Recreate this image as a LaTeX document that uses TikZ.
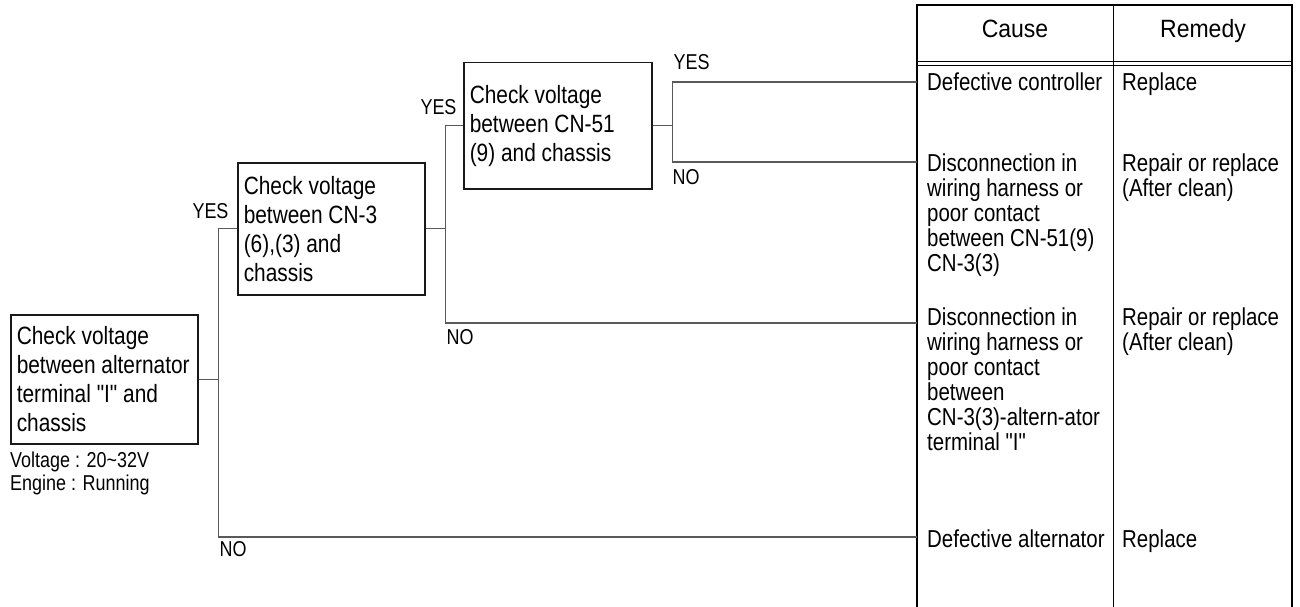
\documentclass[tikz,border=0pt]{standalone}
\usepackage{fontspec}
\setmainfont{Liberation Sans}[FakeStretch=0.835, Ligatures=TeXOff]
\newfontfamily\hdrfont{Liberation Sans}[FakeStretch=0.92, Ligatures=TeXOff]
\usetikzlibrary{positioning,calc}

\begin{document}
\begin{tikzpicture}[
    x=1pt, y=-1pt,
    check/.style={rectangle, draw=black!90, line width=1.5pt,
                  anchor=north west, inner xsep=6pt, inner ysep=0pt,
                  align=flush left, font=\fontsize{25}{29}\selectfont},
    note/.style={anchor=north west, inner sep=0pt, align=left,
                 font=\fontsize{21.5}{23}\selectfont},
    ans/.style={inner sep=0pt, font=\fontsize{21.5}{22}\selectfont},
    cell/.style={anchor=base west, inner sep=0pt, align=left,
                 font=\fontsize{24.5}{25}\selectfont},
    hdr/.style={anchor=base, inner sep=0pt,
                font=\hdrfont\fontsize{25}{27}\selectfont},
    wire/.style={black!65, line width=1.2pt},
    tblframe/.style={black, line width=2pt},
    tblrule/.style={black, line width=1pt},
  ]
  \useasboundingbox (0,0) rectangle (1300,607);

  %% CHECKS
  \node[check, text width=175pt, minimum height=129pt] (alt) at (10,314)
    {Check voltage\\between alternator\\terminal "I" and\\chassis};
  \node[note] (cond) at (10,452) {Voltage : 20\textasciitilde32V\\Engine : Running};

  \node[check, text width=175pt, minimum height=132pt] (cn3) at (237,162)
    {Check voltage\\between CN-3\\(6),(3) and\\chassis};

  \node[check, text width=176pt, minimum height=126pt] (cn51) at (463,62)
    {Check voltage\\between CN-51\\(9) and chassis};

  %% TABLE
  \coordinate (r1) at (917,82);
  \coordinate (r2) at (917,162);
  \coordinate (r3) at (917,323);
  \coordinate (r4) at (917,537);

  \draw[tblframe] (917,607) -- (917,5) -- (1292,5) -- (1292,607);
  \draw[tblrule] (1113,5) -- (1113,607);
  \draw[tblrule] (917,62) -- (1292,62) (917,65.5) -- (1292,65.5);

  \node[hdr] (cause)  at (1015,37.5) {Cause};
  \node[hdr] (remedy) at (1203,37.5) {Remedy};

  % base of a multi-line cell = its last line
  \node[cell] (c1) at (927,91)    {Defective controller};
  \node[cell] (c2) at (927,271.5) {Disconnection in\\wiring harness or\\poor contact\\between CN-51(9)\\CN-3(3)};
  \node[cell] (c3) at (927,450)   {Disconnection in\\wiring harness or\\poor contact\\between\\CN-3(3)-altern-ator\\terminal "I"};
  \node[cell] (c4) at (927,547)   {Defective alternator};

  \node[cell] (m1) at (1122,91)    {Replace};
  \node[cell] (m2) at (1122,196.5) {Repair or replace\\(After clean)};
  \node[cell] (m3) at (1122,350)   {Repair or replace\\(After clean)};
  \node[cell] (m4) at (1122,547)   {Replace};

  %% CONNECTORS
  \coordinate (j1) at ($(alt.east)+(20,0)$);
  \coordinate (j2) at ($(cn3.east)+(20,0)$);
  \coordinate (j3) at ($(cn51.east)+(20,0)$);

  \draw[wire] (alt.east) -- (j1);
  \draw[wire] (j1) |- (cn3.west);
  \draw[wire] (j1) |- (r4);
  \node[ans] at ($(j1 |- cn3.west)+(-8,-18)$) {YES};
  \node[ans, anchor=west] at ($(j1 |- r4)+(1,12)$) {NO};

  \draw[wire] (cn3.east) -- (j2);
  \draw[wire] (j2) |- (cn51.west);
  \draw[wire] (j2) |- (r3);
  \node[ans] at ($(j2 |- cn51.west)+(-7,-19)$) {YES};
  \node[ans, anchor=west] at ($(j2 |- r3)+(1,14.5)$) {NO};

  \draw[wire] (cn51.east) -- (j3);
  \draw[wire] (j3) |- (r1);
  \draw[wire] (j3) |- (r2);
  \node[ans, anchor=west] at ($(j3 |- r1)+(1,-20)$) {YES};
  \node[ans, anchor=west] at ($(j3 |- r2)+(0,15)$) {NO};

\end{tikzpicture}
\end{document}
